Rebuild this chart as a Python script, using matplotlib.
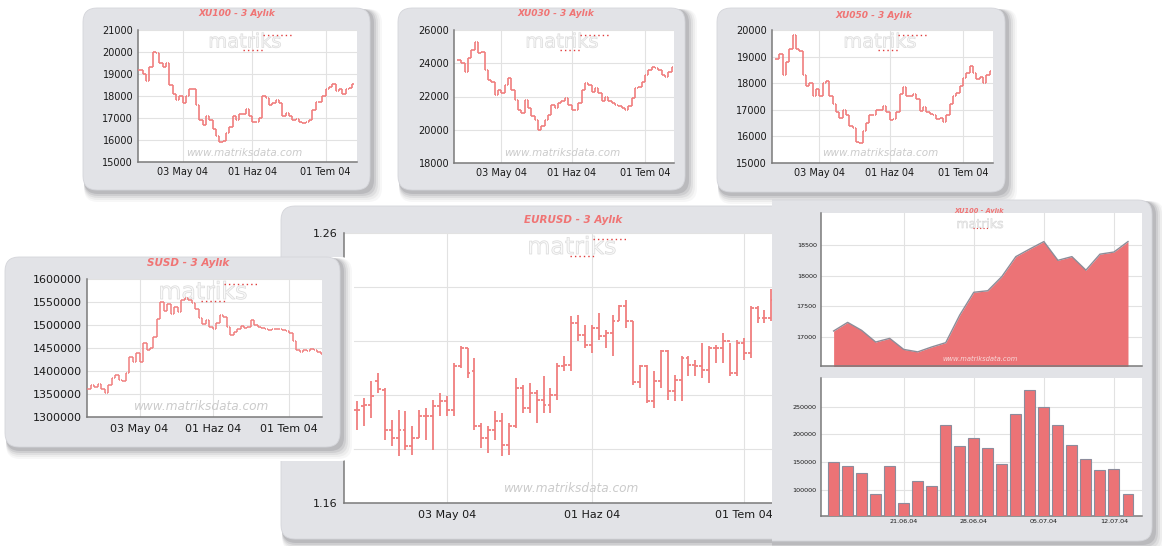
import numpy as np
import matplotlib
matplotlib.use("Agg")
import matplotlib.pyplot as plt
from matplotlib.patches import FancyBboxPatch
from matplotlib.collections import LineCollection
import matplotlib.patheffects as pe

# ---------------- data ----------------
date_ticks = [13, 34, 56]
date_labels = ["03 May 04", "01 Haz 04", "01 Tem 04"]

xu100_close = [19200, 19000, 18700, 19300, 20000, 19950, 19500, 19300, 19500, 18500,
               18100, 17800, 18000, 17700, 18000, 18300, 18300, 17600, 16900, 16700,
               17100, 16900, 16500, 16200, 15900, 15950, 16300, 16600, 17100, 16900,
               17200, 17200, 17400, 17100, 16800, 16800, 17000, 18000, 17900, 17600,
               17700, 17800, 17700, 17100, 17230, 17100, 16900, 16970, 16800, 16760,
               16830, 16900, 17350, 17720, 17750, 17980, 18300, 18430, 18560, 18250,
               18300, 18080, 18340, 18380, 18560]
xu030_close = [24200, 24000, 23500, 24300, 24800, 25300, 24600, 24700, 23600, 23000,
               22900, 22100, 22400, 22200, 22700, 23100, 22400, 21800, 21200, 21000,
               21800, 21300, 20800, 20600, 20000, 20200, 20600, 20900, 21500, 21300,
               21600, 21700, 21900, 21500, 21200, 21200, 21600, 22400, 22800, 22700,
               22300, 22500, 22200, 21700, 22000, 21700, 21600, 21500, 21400, 21300,
               21200, 21400, 21900, 22500, 22600, 22900, 23300, 23600, 23800, 23700,
               23600, 23300, 23200, 23500, 23800]
xu050_close = [18900, 19100, 18300, 18800, 19300, 19800, 19300, 19200, 18300, 17900,
               18000, 17500, 17800, 17500, 18000, 18100, 17500, 17200, 16900, 16700,
               17000, 16800, 16400, 16300, 15800, 15750, 16200, 16500, 16800, 16800,
               17000, 17000, 17150, 16900, 16600, 16650, 16900, 17600, 17850, 17500,
               17500, 17600, 17400, 16950, 17100, 16900, 16850, 16800, 16650, 16700,
               16550, 16800, 17200, 17500, 17650, 17900, 18200, 18400, 18650, 18400,
               18150, 18250, 18000, 18300, 18450]
susd_close = [1360000, 1370000, 1365000, 1372000, 1360000, 1352000, 1370000, 1385000,
              1392000, 1380000, 1378000, 1395000, 1430000, 1420000, 1440000, 1420000,
              1460000, 1445000, 1450000, 1475000, 1512000, 1550000, 1530000, 1545000,
              1525000, 1540000, 1528000, 1555000, 1558000, 1555000, 1548000, 1535000,
              1515000, 1502000, 1510000, 1495000, 1492000, 1505000, 1522000, 1518000,
              1495000, 1478000, 1485000, 1492000, 1498000, 1494000, 1496000, 1510000,
              1500000, 1496000, 1493000, 1492000, 1490000, 1492000, 1491000, 1492000,
              1490000, 1488000, 1482000, 1465000, 1445000, 1442000, 1446000, 1444000,
              1448000, 1445000, 1442000, 1437000]
susd_first_index = -2

eur_open = [1.1946, 1.1958, 1.1964, 1.2051, 1.2020, 1.1872, 1.1841, 1.1872, 1.1810, 1.1841,
            1.1921, 1.1921, 1.1958, 1.1977, 1.1943, 1.2106, 1.2174, 1.2088, 1.1884, 1.1841,
            1.1872, 1.1902, 1.1816, 1.1884, 1.2026, 1.1952, 1.2007, 1.1983, 1.1964, 1.2001,
            1.2106, 1.2112, 1.2267, 1.2223, 1.2186, 1.2248, 1.2217, 1.2230, 1.2273, 1.2328,
            1.2273, 1.2047, 1.2106, 1.1977, 1.2051, 1.2162, 1.2014, 1.2057, 1.2137, 1.2112,
            1.2106, 1.2094, 1.2174, 1.2174, 1.2199, 1.2081, 1.2193, 1.2156, 1.2322, 1.2285,
            1.2285]
eur_high = [1.1977, 1.1989, 1.2051, 1.2081, 1.2026, 1.1909, 1.1946, 1.1940, 1.1884, 1.1946,
            1.1952, 1.1983, 1.2007, 1.1995, 1.2119, 1.2180, 1.2174, 1.2137, 1.1896, 1.1884,
            1.1940, 1.1933, 1.1896, 1.2063, 1.2038, 1.2044, 1.2020, 1.2069, 1.2026, 1.2119,
            1.2143, 1.2291, 1.2298, 1.2260, 1.2260, 1.2304, 1.2242, 1.2298, 1.2335, 1.2353,
            1.2273, 1.2112, 1.2112, 1.2088, 1.2168, 1.2168, 1.2075, 1.2143, 1.2143, 1.2131,
            1.2193, 1.2180, 1.2186, 1.2230, 1.2193, 1.2205, 1.2211, 1.2328, 1.2331, 1.2316,
            1.2393]
eur_low = [1.1872, 1.1884, 1.1915, 1.2007, 1.1835, 1.1810, 1.1773, 1.1798, 1.1779, 1.1841,
           1.1835, 1.1798, 1.1921, 1.1921, 1.1921, 1.2100, 1.2063, 1.1872, 1.1804, 1.1785,
           1.1835, 1.1773, 1.1779, 1.1878, 1.1933, 1.1933, 1.1896, 1.1933, 1.1933, 1.1983,
           1.2088, 1.2088, 1.2199, 1.2174, 1.2156, 1.2205, 1.2174, 1.2143, 1.2273, 1.2248,
           1.2038, 1.2026, 1.1970, 1.1952, 1.2026, 1.1983, 1.1977, 1.1977, 1.2069, 1.2069,
           1.2063, 1.2044, 1.2119, 1.2119, 1.2069, 1.2069, 1.2131, 1.2137, 1.2267, 1.2267,
           1.2273]
eur_close = [1.1946, 1.1964, 1.1995, 1.2022, 1.1872, 1.1841, 1.1872, 1.1810, 1.1841, 1.1921,
             1.1921, 1.1958, 1.1977, 1.1943, 1.2106, 1.2174, 1.2081, 1.1884, 1.1841, 1.1872,
             1.1902, 1.1816, 1.1884, 1.2026, 1.1952, 1.2007, 1.1983, 1.1964, 1.2001, 1.2106,
             1.2112, 1.2267, 1.2223, 1.2186, 1.2248, 1.2217, 1.2230, 1.2273, 1.2328, 1.2273,
             1.2047, 1.2106, 1.1977, 1.2051, 1.2162, 1.2014, 1.2057, 1.2137, 1.2112, 1.2106,
             1.2094, 1.2174, 1.2174, 1.2199, 1.2081, 1.2193, 1.2156, 1.2322, 1.2285, 1.2285,
             1.2353]

daily_close = [17100, 17240, 17110, 16920, 16980, 16800, 16760, 16840, 16910, 17360, 17730,
               17755, 17985, 18310, 18435, 18555, 18250, 18310, 18090, 18350, 18385, 18555]
daily_volume = [149000, 142000, 129000, 92000, 142000, 76000, 116000, 106000, 217000, 178000,
                194000, 176000, 146000, 237000, 280000, 250000, 216000, 181000, 156000, 135000,
                138000, 91000]
daily_tick_pos = [5, 10, 15, 20]
daily_tick_labels = ["21.06.04", "28.06.04", "05.07.04", "12.07.04"]

xu100_yticks = [15000, 16000, 17000, 18000, 19000, 20000, 21000]
xu030_yticks = [18000, 20000, 22000, 24000, 26000]
xu050_yticks = [15000, 16000, 17000, 18000, 19000, 20000]
susd_yticks = [1300000, 1350000, 1400000, 1450000, 1500000, 1550000, 1600000]
eur_yticks = [1.16, 1.18, 1.20, 1.22, 1.24, 1.26]
daily_yticks = [17000, 17500, 18000, 18500]
vol_yticks = [100000, 150000, 200000, 250000]

# ---------------- figure ----------------
W, H = 1162, 546
fig = plt.figure(figsize=(W / 100, H / 100), dpi=100)
fig.patch.set_facecolor("white")
pix = fig.add_axes([0, 0, 1, 1], zorder=0)
pix.set_xlim(0, W); pix.set_ylim(H, 0); pix.axis("off")
PT = pix.transData

BAR = "#F07E7E"
AREA = "#EC7376"
TITLE = "#F07474"
PANEL = "#E2E3E7"
TXT = "#1A1A1A"
NARROW = ["Liberation Sans Narrow", "DejaVu Sans"]


def frac(x0, y0, x1, y1):
    return [x0 / W, 1 - y1 / H, (x1 - x0) / W, (y1 - y0) / H]


def panel_bg(box, zo, r=14, clip_left=None):
    x0, y0, x1, y1 = box
    if clip_left is None:
        bg = fig.add_axes([0, 0, 1, 1], zorder=zo)
        bg.set_xlim(0, W)
    else:
        bg = fig.add_axes([clip_left / W, 0, 1 - clip_left / W, 1], zorder=zo)
        bg.set_xlim(clip_left, W)
    bg.set_ylim(H, 0); bg.axis("off")
    w, h = x1 - x0, y1 - y0
    st = f"round,pad=0,rounding_size={r}"
    bg.add_patch(FancyBboxPatch((x0, y0), w + 14, h + 14, boxstyle=st, fc="white", ec="none"))
    for k, a in [(11, 0.05), (9, 0.07), (7, 0.10), (5, 0.14), (3, 0.2)]:
        bg.add_patch(FancyBboxPatch((x0 + 1, y0 + 1), w + k, h + k, boxstyle=st,
                                    fc="#6A6A74", ec="none", alpha=a))
    bg.add_patch(FancyBboxPatch((x0, y0), w, h, boxstyle=st, fc=PANEL, ec="#D4D5DA", lw=0.6))
    return bg


def plot_axes(box, zo, xlim, ylim):
    ax = fig.add_axes(frac(*box), zorder=zo)
    ax.set_facecolor("white")
    ax.set_xlim(*xlim); ax.set_ylim(*ylim)
    for s in ("top", "right"):
        ax.spines[s].set_visible(False)
    for s in ("left", "bottom"):
        ax.spines[s].set_color("#7A7A7A"); ax.spines[s].set_linewidth(1.1)
    ax.grid(True, color="#E2E2E2", lw=0.8)
    ax.set_axisbelow(True)
    ax.tick_params(length=0, colors=TXT)
    return ax


def draw_ohlc(ax, x, o, h, l, c, tick, lw):
    segs = []
    for xi, oi, hi, li, ci in zip(x, o, h, l, c):
        segs.append([(xi, li), (xi, hi)])
        segs.append([(xi - tick, oi), (xi, oi)])
        segs.append([(xi, ci), (xi + tick, ci)])
    ax.add_collection(LineCollection(segs, colors=BAR, linewidths=lw, capstyle="butt", zorder=3))


def watermark(ax, cx, cy, s, fs, wx, wy, wfs, wcol="#CBCBCB"):
    ax.text(cx, cy, "matriks", transform=PT, ha="center", va="center", fontsize=fs,
            color="#FAFAFA", zorder=1,
            path_effects=[pe.Stroke(linewidth=0.6, foreground="#DEDEDE")])
    ax.plot([cx + 18 * s, cx + 48 * s], [cy - 7 * s, cy - 7 * s], transform=PT,
            ls=(0, (1, 2.2)), color="#E03A3A", lw=1.0, zorder=2, clip_on=False)
    ax.plot([cx - 2 * s, cx + 20 * s], [cy + 8 * s, cy + 8 * s], transform=PT,
            ls=(0, (1, 2.2)), color="#E03A3A", lw=1.0, zorder=2, clip_on=False)
    ax.text(wx, wy, "www.matriksdata.com", transform=PT, ha="center", va="center",
            fontsize=wfs, style="italic", color=wcol, zorder=2)


# ---- small index charts ----
small = [
    dict(title="XU100 - 3 Aylık", close=xu100_close, yt=xu100_yticks,
         panel=(83, 8, 370, 190), plot=(138, 30, 357, 162), xlim=(-0.4, 65.4),
         tpos=(237, 14), wm=(245, 42), www=(244, 153)),
    dict(title="XU030 - 3 Aylık", close=xu030_close, yt=xu030_yticks,
         panel=(398, 8, 685, 190), plot=(454, 30, 674, 163), xlim=(-1.2, 64.7),
         tpos=(556, 14), wm=(562, 42), www=(562, 153)),
    dict(title="XU050 - 3 Aylık", close=xu050_close, yt=xu050_yticks,
         panel=(717, 8, 1005, 192), plot=(772, 30, 993, 163), xlim=(-1.2, 65.0),
         tpos=(874, 15), wm=(880, 42), www=(880, 153)),
]

zo = 2
for cfg in small:
    bg = panel_bg(cfg["panel"], zo)
    bg.text(*cfg["tpos"], cfg["title"], ha="center", va="center", fontsize=6.5,
            style="italic", weight="bold", color=TITLE)
    yt = cfg["yt"]
    ax = plot_axes(cfg["plot"], zo + 1, cfg["xlim"], (yt[0], yt[-1]))
    c = np.array(cfg["close"], dtype=float)
    o = np.r_[c[0], c[:-1]]
    x = np.arange(len(c))
    draw_ohlc(ax, x, o, np.maximum(o, c), np.minimum(o, c), c, 0.45, 1.2)
    ax.set_yticks(yt)
    ax.set_yticklabels([str(v) for v in yt], fontsize=7, family=NARROW)
    ax.set_xticks(date_ticks)
    ax.set_xticklabels(date_labels, fontsize=7)
    ax.tick_params(axis="y", pad=3.5)
    ax.tick_params(axis="x", pad=3.5)
    watermark(ax, *cfg["wm"], 1.0, 14, *cfg["www"], 7.5)
    zo += 2

# ---- EURUSD ----
bg = panel_bg((281, 206, 805, 539), zo)
bg.text(573, 220, "EURUSD - 3 Aylık", ha="center", va="center", fontsize=7.5,
        style="italic", weight="bold", color=TITLE)
ax = plot_axes((344, 233, 810, 503), zo + 1, (-1.9, 65.6), (eur_yticks[0], eur_yticks[-1]))
xe = np.arange(len(eur_close))
draw_ohlc(ax, xe, eur_open, eur_high, eur_low, eur_close, 0.42, 1.3)
ax.set_yticks(eur_yticks)
ax.set_yticklabels([f"{v:.2f}" for v in eur_yticks], fontsize=8)
ax.set_xticks(date_ticks)
ax.set_xticklabels(date_labels, fontsize=8)
ax.tick_params(axis="y", pad=4.5)
ax.tick_params(axis="x", pad=5)
watermark(ax, 572, 247, 1.15, 17, 572, 489, 8.7)
zo += 2

# ---- SUSD ----
bg = panel_bg((5, 257, 340, 447), zo)
bg.text(188, 263, "SUSD - 3 Aylık", ha="center", va="center", fontsize=7.5,
        style="italic", weight="bold", color=TITLE)
ax = plot_axes((87, 279, 322, 417), zo + 1, (-2.1, 65.4), (susd_yticks[0], susd_yticks[-1]))
cs = np.array(susd_close, dtype=float)
os_ = np.r_[cs[0], cs[:-1]]
xs = np.arange(len(cs)) + susd_first_index
draw_ohlc(ax, xs, os_, np.maximum(os_, cs), np.minimum(os_, cs), cs, 0.45, 1.1)
ax.set_yticks(susd_yticks)
ax.set_yticklabels([str(v) for v in susd_yticks], fontsize=8)
ax.set_xticks(date_ticks)
ax.set_xticklabels(date_labels, fontsize=8)
ax.tick_params(axis="y", pad=3.5)
ax.tick_params(axis="x", pad=5)
watermark(ax, 203, 292, 1.15, 17, 202, 406, 8.7)
zo += 2

# ---- right panel: daily XU100 (left edge cut straight) ----
bg = panel_bg((750, 200, 1152, 541), zo, clip_left=772)
bg.text(979, 211.5, "XU100 - Aylık", ha="center", va="center", fontsize=4.8,
        style="italic", weight="bold", color=TITLE, zorder=10)
axT = plot_axes((821, 213, 1142, 366), zo + 1, (-0.9, 22.0), (16530, 19020))
xd = np.arange(len(daily_close))
axT.fill_between(xd, daily_close, 16000, color=AREA, lw=0, zorder=2)
axT.plot(xd, daily_close, color="#8C8C98", lw=1.0, zorder=3)
axT.set_yticks(daily_yticks)
axT.set_yticklabels([str(v) for v in daily_yticks], fontsize=4.6)
axT.set_xticks(daily_tick_pos)
axT.tick_params(axis="x", labelbottom=False)
axT.tick_params(axis="y", pad=3)
axT.text(980, 224.5, "matriks", transform=PT, ha="center", va="center", fontsize=9,
         color="#FAFAFA", zorder=1, path_effects=[pe.Stroke(linewidth=0.5, foreground="#DADADA")])
axT.plot([973, 988], [228, 228], transform=PT, ls=(0, (1, 2)), color="#E03A3A", lw=0.8,
         clip_on=False, zorder=2)
axT.text(980, 359, "www.matriksdata.com", transform=PT, ha="center", va="center",
         fontsize=4.9, style="italic", color="#F8DADA", zorder=5)

axB = plot_axes((821, 378, 1142, 516), zo + 1, (-0.9, 22.0), (52000, 302000))
axB.bar(xd, daily_volume, width=0.78, color=AREA, edgecolor="#8C8C9C", lw=0.8, zorder=3)
axB.set_yticks(vol_yticks)
axB.set_yticklabels([str(v) for v in vol_yticks], fontsize=4.6)
axB.set_xticks(daily_tick_pos)
axB.set_xticklabels(daily_tick_labels, fontsize=4.6)
axB.tick_params(axis="y", pad=3)
axB.tick_params(axis="x", pad=2.5)

fig.savefig("out.png", dpi=100, facecolor="white")
